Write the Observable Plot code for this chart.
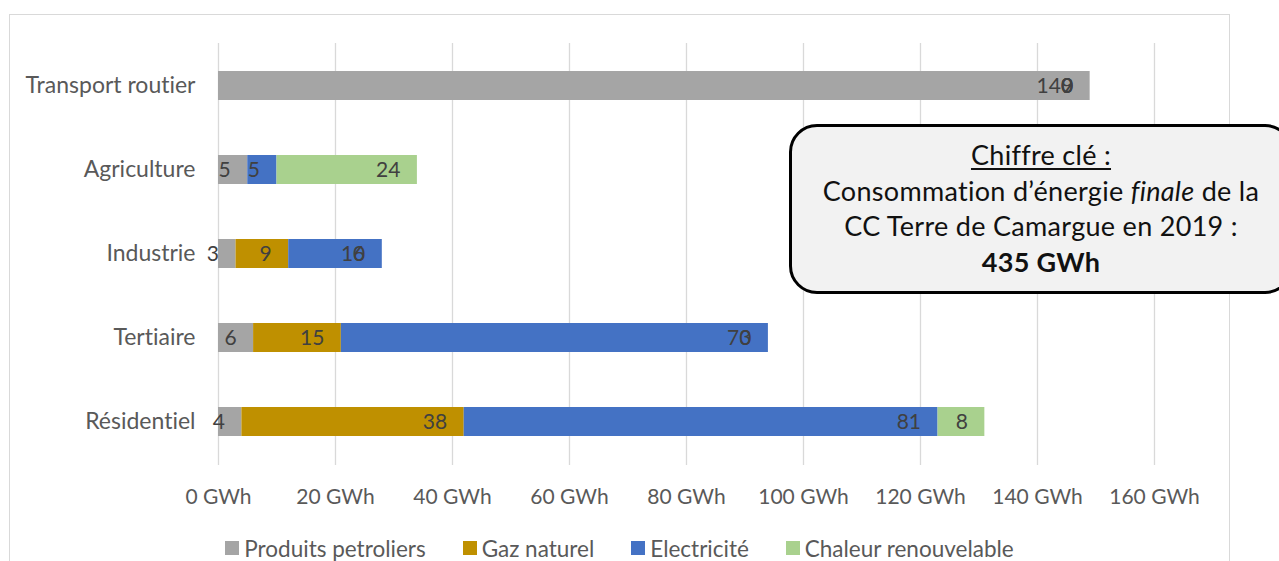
<!DOCTYPE html>
<html>
<head>
<meta charset="utf-8">
<script src="https://cdn.jsdelivr.net/npm/d3@7"></script>
<script src="https://cdn.jsdelivr.net/npm/@observablehq/plot@0.6"></script>
<style>
  body { margin: 0; background: #fff; font-family: Lato, "Noto Sans", sans-serif; font-variant-ligatures: none; }
  #wrap { position: relative; width: 1279px; height: 561px; overflow: hidden; background: #fff; }
  #frame { position: absolute; left: 9px; top: 14px; width: 1221px; height: 620px; border: 1px solid #d9d9d9; box-sizing: border-box; }
  #chart { position: absolute; left: 0; top: 0; }
  #chart svg text { font-variant-ligatures: none; }
  #key { position: absolute; left: 9px; width: 1221px; top: 534px; height: 28px; display: flex; justify-content: center; align-items: center; gap: 37px; font-size: 22.5px; color: #595959; }
  #key .item { display: flex; align-items: center; gap: 5px; }
  #key .sw { width: 14px; height: 14px; }
  #callout { position: absolute; left: 789px; top: 124px; width: 504px; height: 170px; box-sizing: border-box; border: 3.5px solid #000; border-radius: 28px; background: #f2f2f2; padding-top: 10px; text-align: center; font-size: 27px; letter-spacing: 0.3px; line-height: 35.5px; color: #111; }
  #callout u { text-underline-offset: 3px; }
</style>
</head>
<body>
<div id="wrap">
  <div id="frame"></div>
  <div id="chart"></div>
  <div id="callout"></div>
  <div id="key"></div>
</div>
<script>
// Final energy consumption by sector and energy source (GWh), 2019
const sectors = ["Transport routier", "Agriculture", "Industrie", "Tertiaire", "Résidentiel"];
const sources = ["Produits petroliers", "Gaz naturel", "Electricité", "Chaleur renouvelable"];
const sourceColors = ["#a5a5a5", "#bf9000", "#4472c4", "#a9d18e"];

const petrole = [149, 5, 3, 6, 4];
const gaz     = [0, null, 9, 15, 38];
const elec    = [0, 5, 16, 73, 81];
const chaleur = [0, 24, 0, 0, 8];

const xTicks = [0, 20, 40, 60, 80, 100, 120, 140, 160];

const calloutLines = ["Chiffre clé :", "Consommation d’énergie ", "finale", " de la", "CC Terre de Camargue en 2019 :", "435 GWh"];

// long table: one row per sector × source (missing values skipped)
const series = [petrole, gaz, elec, chaleur];
const rows = [];
sectors.forEach((sector, i) => {
  sources.forEach((source, j) => {
    const v = series[j][i];
    if (v != null) rows.push({sector, source, value: v});
  });
});

const chart = Plot.plot({
  width: 1279,
  height: 520,
  marginLeft: 218,
  marginRight: 125,
  marginTop: 43,
  marginBottom: 55,
  style: {fontFamily: "Lato, 'Noto Sans', sans-serif", background: "transparent", overflow: "visible"},
  x: {domain: [0, 160]},
  y: {domain: sectors, paddingInner: 0.65, paddingOuter: 0.325},
  color: {domain: sources, range: sourceColors},
  marks: [
    Plot.gridX(xTicks, {stroke: "#d9d9d9", strokeOpacity: 1, strokeWidth: 1.3}),
    Plot.barX(rows, {x: "value", y: "sector", fill: "source"}),
    Plot.text(rows, Plot.stackX2({
      x: "value", y: "sector", z: "source",
      text: d => String(d.value),
      textAnchor: "end", dx: -17, fill: "#404040", fontSize: 21
    })),
    Plot.axisX({ticks: xTicks, tickFormat: d => d + " GWh", tickSize: 0, tickPadding: 24, fontSize: 21, color: "#595959", label: null}),
    Plot.axisY({tickSize: 0, tickPadding: 23, fontSize: 23, color: "#595959", label: null})
  ]
});
document.getElementById("chart").appendChild(chart);

// key-figure callout
const callout = document.getElementById("callout");
callout.innerHTML =
  `<div><u>${calloutLines[0]}</u></div>` +
  `<div>${calloutLines[1]}<i>${calloutLines[2]}</i>${calloutLines[3]}</div>` +
  `<div>${calloutLines[4]}</div>` +
  `<div><b>${calloutLines[5]}</b></div>`;

// legend
const key = document.getElementById("key");
sources.forEach((s, i) => {
  const item = document.createElement("div");
  item.className = "item";
  const sw = document.createElement("span");
  sw.className = "sw";
  sw.style.background = sourceColors[i];
  const lab = document.createElement("span");
  lab.textContent = s;
  item.append(sw, lab);
  key.appendChild(item);
});
</script>
</body>
</html>
